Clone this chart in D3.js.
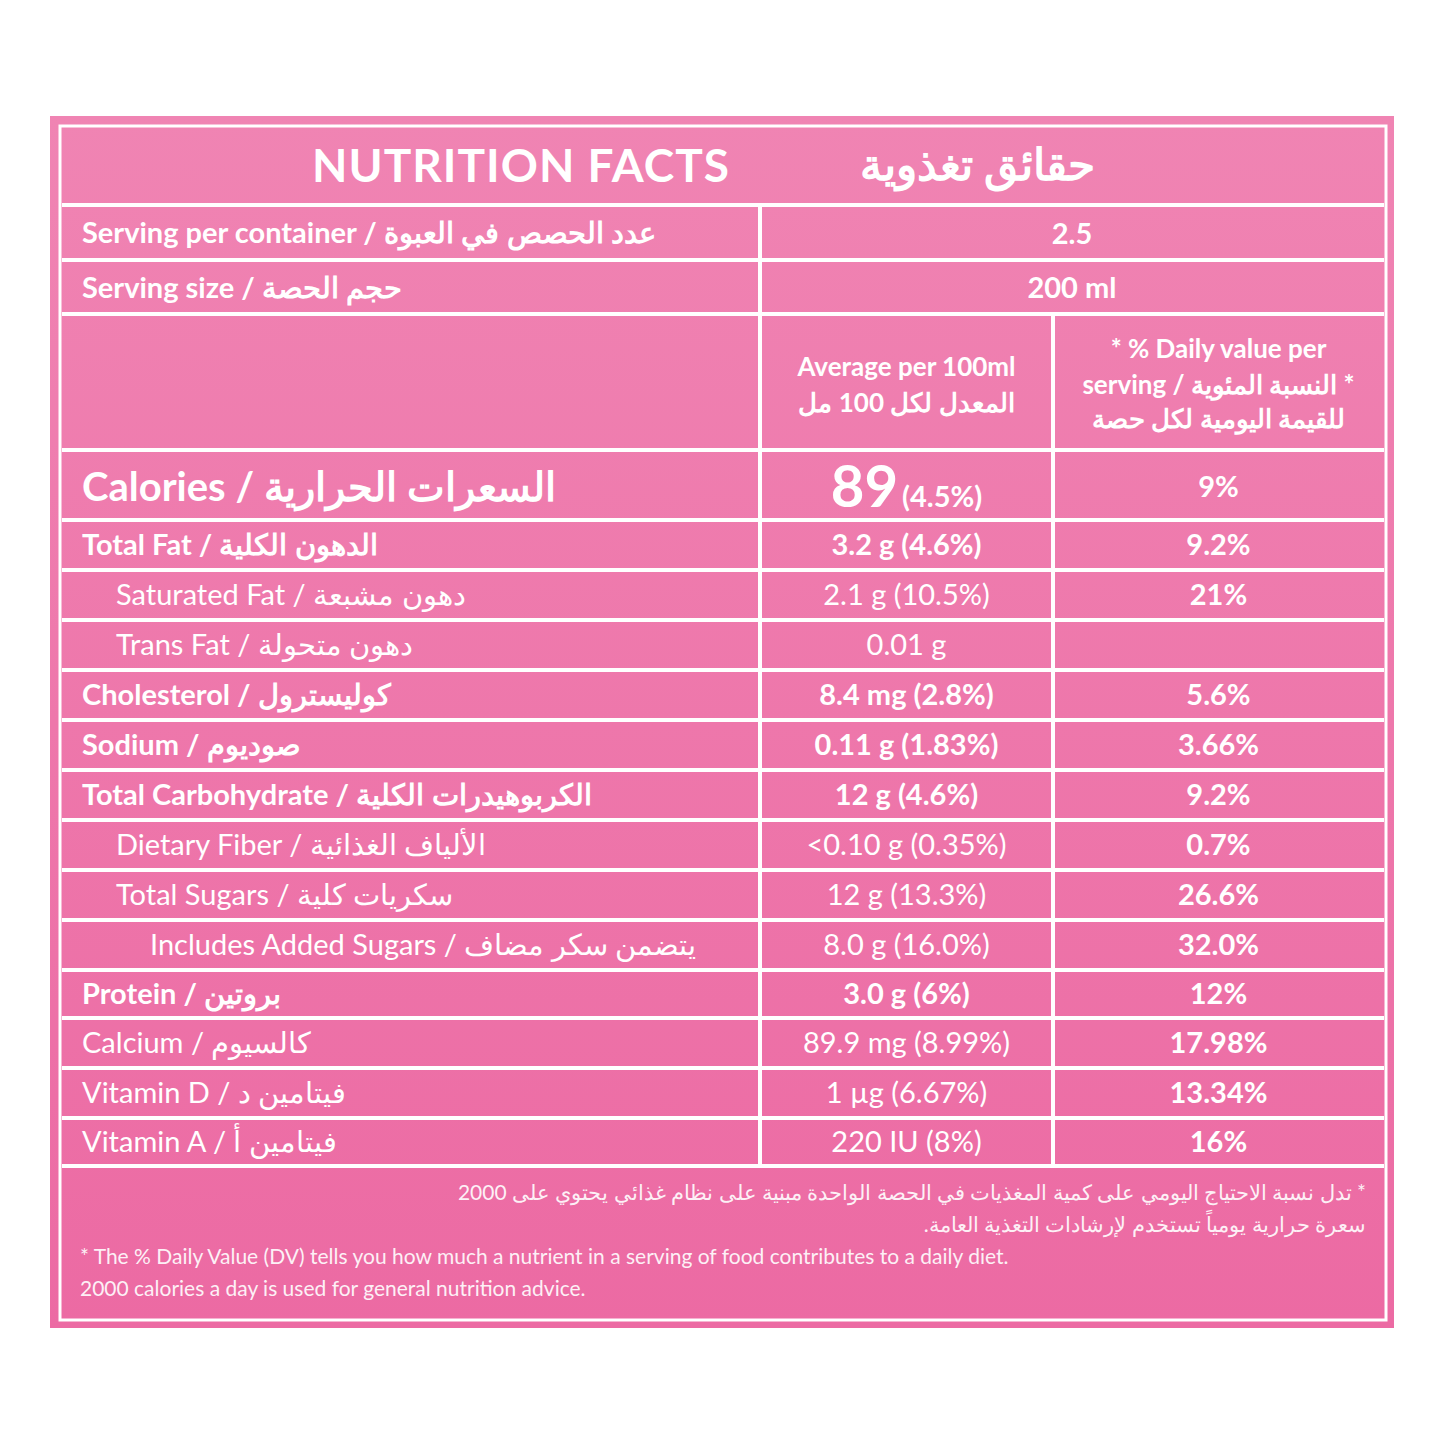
<!DOCTYPE html>
<html><head><meta charset="utf-8">
<script src="https://cdn.jsdelivr.net/npm/d3@7"></script>
<style>body{margin:0;background:#fff}text{fill:#fff;font-family:Lato,"Noto Sans",sans-serif}</style>
</head><body><svg id="c" width="1445" height="1445"></svg>
<script>
const labels = ['Calories','Total Fat','Saturated Fat','Trans Fat','Cholesterol','Sodium','Total Carbohydrate','Dietary Fiber','Total Sugars','Includes Added Sugars','Protein','Calcium','Vitamin D','Vitamin A'];
const arabic = ['السعرات الحرارية','الدهون الكلية','دهون مشبعة','دهون متحولة','كوليسترول','صوديوم','الكربوهيدرات الكلية','الألياف الغذائية','سكريات كلية','يتضمن سكر مضاف','بروتين','كالسيوم','فيتامين د','فيتامين أ'];
const per100 = ['89','3.2 g (4.6%)','2.1 g (10.5%)','0.01 g','8.4 mg (2.8%)','0.11 g (1.83%)','12 g (4.6%)','<0.10 g (0.35%)','12 g (13.3%)','8.0 g (16.0%)','3.0 g (6%)','89.9 mg (8.99%)','1 µg (6.67%)','220 IU (8%)'];
const dailyValue = ['9%','9.2%','21%','','5.6%','3.66%','9.2%','0.7%','26.6%','32.0%','12%','17.98%','13.34%','16%'];
const indent = [0,0,1,1,0,0,0,1,1,2,0,0,0,0];
const bold = [1,1,0,0,1,1,1,0,0,0,1,0,0,0];

const svg = d3.select('#c');
const defs = svg.append('defs');
const g = defs.append('linearGradient').attr('id','bg').attr('x1',0).attr('y1',0).attr('x2',0).attr('y2',1);
g.append('stop').attr('offset',0).attr('stop-color','#f084b3');
g.append('stop').attr('offset',1).attr('stop-color','#ec6aa3');

svg.append('rect').attr('x',50).attr('y',116).attr('width',1344).attr('height',1212).attr('fill','url(#bg)');
svg.append('rect').attr('x',60).attr('y',126).attr('width',1326).attr('height',1194)
  .attr('fill','none').attr('stroke','#fff').attr('stroke-width',3);

const X0 = 62, X1 = 760, X2 = 1053, X3 = 1384;
const headH = [79, 55, 54, 136];
const bodyH = [70, 50, 50, 50, 50, 50, 50, 50, 50, 50, 48, 50, 50, 48];
const yRow = d3.scaleOrdinal();
let y = 126;
const headY = headH.map(h => { const v = y; y += h; return v; });
const bodyY = bodyH.map(h => { const v = y; y += h; return v; });
const footY = y;

const line = (x1,y1,x2,y2) => svg.append('line').attr('x1',x1).attr('y1',y1).attr('x2',x2).attr('y2',y2)
  .attr('stroke','#fff').attr('stroke-width',4);
// horizontals
headY.slice(1).concat(bodyY, [footY]).forEach(v => line(X0, v, X3, v));
line(X1, headY[1], X1, footY);
line(X2, headY[3], X2, footY);

const sh = '0 0 2px rgba(190,40,110,0.6)';
svg.append('text').attr('x',730).attr('y',headY[0]+56).attr('text-anchor','end')
  .attr('font-size',46).attr('font-weight',700).attr('letter-spacing',1).text('NUTRITION FACTS');
svg.append('text').attr('x',780).attr('y',headY[0]+54).attr('text-anchor','start').attr('direction','rtl')
  .attr('font-family','Noto Sans').attr('font-size',44).attr('font-weight',700).text('حقائق تغذوية')
  .attr('x',1095);

const lbl = (yy, en, ar, size, w, ind) => {
  const t = svg.append('text').attr('x', 82 + ind*34).attr('y', yy).attr('font-size', size).attr('font-weight', w);
  t.append('tspan').text(en + ' / ');
  t.append('tspan').attr('font-family','Noto Sans').text(ar);
};
lbl(headY[1]+38, 'Serving per container', 'عدد الحصص في العبوة', 29, 700, 0);
lbl(headY[2]+38, 'Serving size', 'حجم الحصة', 29, 700, 0);
const mid1 = (X1+X2)/2, mid2 = (X2+X3)/2, midS = (X1+X3)/2;
svg.append('text').attr('x',midS).attr('y',headY[1]+39).attr('text-anchor','middle').attr('font-size',29).attr('font-weight',700).text('2.5');
svg.append('text').attr('x',midS).attr('y',headY[2]+38).attr('text-anchor','middle').attr('font-size',29).attr('font-weight',700).text('200 ml');

const hdr = (x, yy, s, fam) => svg.append('text').attr('x',x).attr('y',yy).attr('text-anchor','middle')
  .attr('font-size',26).attr('font-weight',700).attr('font-family',fam || null).text(s);
hdr(mid1, headY[3]+62, 'Average per 100ml');
hdr(mid1, headY[3]+98, 'المعدل لكل 100 مل', 'Noto Sans');
hdr(mid2, headY[3]+44, '* % Daily value per');
hdr(mid2, headY[3]+80, 'serving / النسبة المئوية *', 'Noto Sans');
hdr(mid2, headY[3]+114, 'للقيمة اليومية لكل حصة', 'Noto Sans');

labels.forEach((d, i) => {
  const yy = bodyY[i] + bodyH[i]/2 + 10;
  if (i === 0) {
    lbl(yy + 6, d, arabic[i], 40, 700, 0);
    const t = svg.append('text').attr('x',mid1).attr('y',yy+12).attr('text-anchor','middle').attr('font-weight',700);
    t.append('tspan').attr('font-size',58).text(per100[i]);
    t.append('tspan').attr('font-size',29).attr('dx',4).text('(4.5%)');
  } else {
    lbl(yy, d, arabic[i], 29, bold[i] ? 700 : 400, indent[i]);
    svg.append('text').attr('x',mid1).attr('y',yy).attr('text-anchor','middle').attr('font-size',29)
      .attr('font-weight',bold[i] ? 700 : 400).text(per100[i]);
  }
  svg.append('text').attr('x',mid2).attr('y',yy+(i===0?2:0)).attr('text-anchor','middle').attr('font-size',29)
    .attr('font-weight',700).text(dailyValue[i]);
});

const foot = [
  {s:'* تدل نسبة الاحتياج اليومي على كمية المغذيات في الحصة الواحدة مبنية على نظام غذائي يحتوي على 2000', ar:1},
  {s:'سعرة حرارية يومياً تستخدم لإرشادات التغذية العامة.', ar:1},
  {s:'* The % Daily Value (DV) tells you how much a nutrient in a serving of food contributes to a daily diet.', ar:0},
  {s:'2000 calories a day is used for general nutrition advice.', ar:0}];
foot.forEach((f, i) => {
  svg.append('text').attr('x', f.ar ? 1366 : 80).attr('y', footY + 34 + i*32)
    .attr('text-anchor', 'start').attr('direction', f.ar ? 'rtl' : 'ltr')
    .attr('font-family', f.ar ? 'Noto Sans' : null).attr('font-size', 21).attr('opacity',0.9).text(f.s);
});
</script></body></html>
